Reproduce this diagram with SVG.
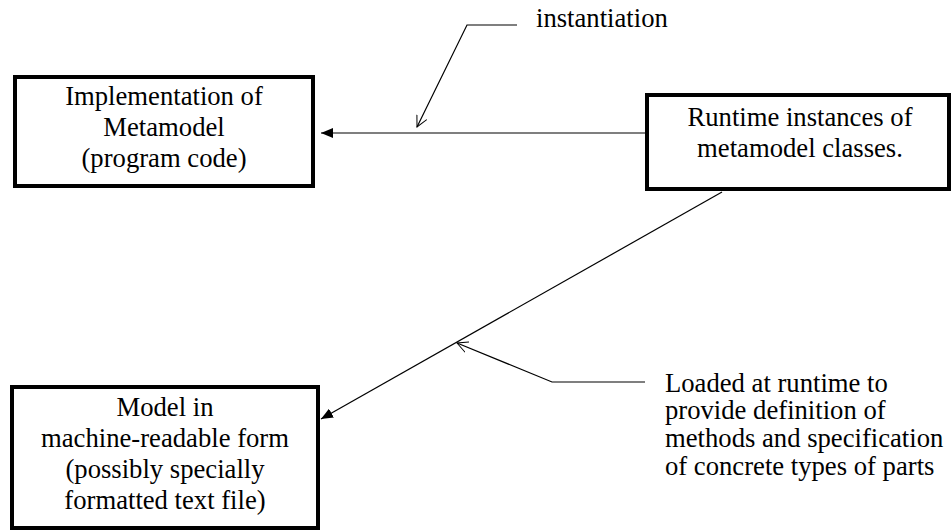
<svg xmlns="http://www.w3.org/2000/svg" width="951" height="531" viewBox="0 0 951 531">
<style>
.box{fill:#fff;stroke:#000;stroke-width:4}
.t{font-family:"Liberation Serif","Times New Roman",serif;font-size:26.67px;fill:#000}
.c{text-anchor:middle}
.ln{fill:none;stroke:#000;stroke-width:1.2}
</style>
<defs>
<marker id="filled" markerWidth="12" markerHeight="10" refX="12" refY="5" orient="auto" markerUnits="userSpaceOnUse">
<path d="M0,0 L12,5 L0,10 Z" fill="#000"/>
</marker>
<marker id="open" markerWidth="12" markerHeight="12" refX="11" refY="6" orient="auto" markerUnits="userSpaceOnUse">
<path d="M0,0.5 L11,6 L0,11.5" fill="none" stroke="#000" stroke-width="1"/>
</marker>
</defs>
<g id="connectors">
<line class="ln" x1="645" y1="133" x2="321" y2="133" marker-end="url(#filled)"/>
<line class="ln" x1="722" y1="192" x2="321" y2="419" marker-end="url(#filled)"/>
<polyline class="ln" points="517,25 467,25 417,127" marker-end="url(#open)"/>
<polyline class="ln" points="645,382 552,382 457,343" marker-end="url(#open)"/>
</g>
<g id="impl">
<rect class="box" x="15" y="77" width="298" height="109"/>
<text class="t c" x="164" y="105">Implementation of</text>
<text class="t c" x="164" y="136">Metamodel</text>
<text class="t c" x="164" y="167">(program code)</text>
</g>
<g id="runtime">
<rect class="box" x="647" y="95" width="302" height="94"/>
<text class="t c" x="800" y="126">Runtime instances of</text>
<text class="t c" x="800" y="157">metamodel classes.</text>
</g>
<g id="model">
<rect class="box" x="12" y="387" width="306" height="141"/>
<text class="t c" x="165" y="416">Model in</text>
<text class="t c" x="165" y="447">machine-readable form</text>
<text class="t c" x="165" y="478">(possibly specially</text>
<text class="t c" x="165" y="509">formatted text file)</text>
</g>
<g id="instantiation-label">
<text class="t" x="536" y="27">instantiation</text>
</g>
<g id="loaded-label">
<text class="t" x="665" y="392">Loaded at runtime to</text>
<text class="t" x="665" y="419">provide definition of</text>
<text class="t" x="665" y="447">methods and specification</text>
<text class="t" x="665" y="475">of concrete types of parts</text>
</g>
</svg>
